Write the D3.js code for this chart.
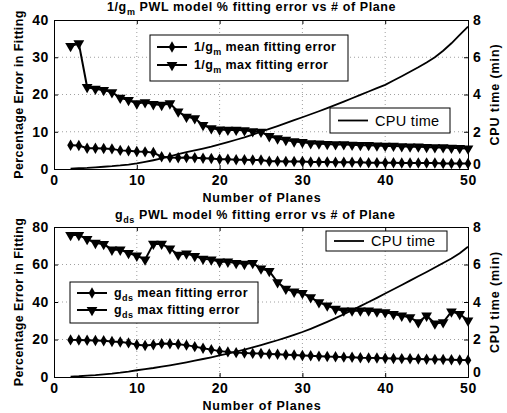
<!DOCTYPE html>
<html><head><meta charset="utf-8">
<script src="https://cdn.jsdelivr.net/npm/d3@7"></script>
<style>
body{margin:0;background:#fff;}
svg{display:block;font-family:"Liberation Sans",Arial,sans-serif;font-weight:bold;}
</style></head>
<body><svg id="c" width="507" height="413"></svg>
<script>
const planes = [2,3,4,5,6,7,8,9,10,11,12,13,14,15,16,17,18,19,20,21,22,23,24,25,26,27,28,29,30,31,32,33,34,35,36,37,38,39,40,41,42,43,44,45,46,47,48,49,50];
const topMean = [6.4,6.3,5.6,5.6,5.5,5.4,5.0,4.9,4.7,4.6,4.4,3.3,3.1,3.0,3.1,3.0,2.9,2.8,2.6,2.6,2.5,2.5,2.4,2.4,2.1,2.1,2.0,2.0,2.0,1.9,1.9,1.9,1.8,1.8,1.8,1.8,1.7,1.7,1.7,1.7,1.6,1.6,1.6,1.6,1.6,1.5,1.5,1.5,1.5];
const topMax = [33,33.7,22,21.5,21.2,20.6,19.1,18.5,17.6,17.9,17.4,17.2,17.6,15.4,14,13.6,11.8,10.9,10.6,10.5,10.5,10.4,10.1,10,8.8,8.2,7.8,7.4,7.2,6.9,6.8,6.7,6.6,6.6,6.5,6.4,6.4,6.3,6.2,6.2,6.1,6.0,6.0,5.9,5.8,5.8,5.7,5.6,5.5];
const topCpu = [0.02,0.04,0.06,0.09,0.12,0.15,0.19,0.24,0.3,0.38,0.47,0.57,0.68,0.8,0.9,1.0,1.1,1.2,1.32,1.44,1.57,1.7,1.85,2.0,2.15,2.3,2.46,2.62,2.78,2.94,3.1,3.27,3.44,3.62,3.8,3.98,4.16,4.34,4.52,4.75,4.98,5.22,5.46,5.72,6.0,6.35,6.75,7.2,7.65];
const botMean = [19.8,19.7,19.6,19.5,19.3,18.9,18.7,18.2,17.2,16.8,17.2,17.8,17.7,17.5,17.0,16.2,15.3,14.6,13.8,13.4,13.0,12.8,12.6,12.5,12.3,12.1,11.9,11.7,11.5,11.3,11.1,10.9,10.8,10.6,10.5,10.3,10.2,10.1,10.0,9.9,9.8,9.7,9.6,9.5,9.4,9.3,9.2,9.1,9.0];
const botMax = [75.7,75.7,73.6,71.5,70.9,67.9,67.9,66.1,64.7,62.6,71,71,68.5,65.2,65.8,64.5,63,62.6,61.5,61.5,60.8,60.3,60.8,57.8,56.5,50.5,47,45.5,44.8,42.5,39.8,38.1,36.3,35.4,35.4,35.4,35.4,34.9,34.5,33.6,32.7,31.8,29.2,32.7,28.5,29.2,34.9,33.6,30.1];
const botCpu = [0.02,0.04,0.07,0.1,0.14,0.18,0.23,0.29,0.36,0.42,0.48,0.55,0.62,0.7,0.78,0.87,0.96,1.05,1.15,1.25,1.35,1.46,1.58,1.7,1.83,1.96,2.1,2.25,2.4,2.57,2.75,2.94,3.14,3.35,3.56,3.78,4.0,4.22,4.45,4.68,4.91,5.14,5.37,5.6,5.84,6.08,6.32,6.6,6.95];
const xTicks = [0,10,20,30,40,50];
const topLeftTicks = [0,10,20,30,40];
const botLeftTicks = [0,20,40,60,80];
const rightTicks = [0,2,4,6,8];

const svg = d3.select("#c");
const L = 54, R = 468;

function panel(cfg){
  const g = svg.append("g");
  const x = d3.scaleLinear().domain([0,50]).range([L,R]);
  const y = d3.scaleLinear().domain([0,cfg.ymax]).range([cfg.bottom,cfg.top]);
  const y2 = d3.scaleLinear().domain([0,8]).range([cfg.bottom,cfg.top]);
  const grid = g.append("g").attr("stroke","#888").attr("stroke-width",0.8).attr("stroke-dasharray","1,3");
  xTicks.slice(1,-1).forEach(t=>grid.append("line").attr("x1",x(t)).attr("x2",x(t)).attr("y1",cfg.top).attr("y2",cfg.bottom));
  cfg.leftTicks.slice(1,-1).forEach(t=>grid.append("line").attr("x1",L).attr("x2",R).attr("y1",y(t)).attr("y2",y(t)));
  const ax = d3.axisBottom(x).tickValues(xTicks).tickSize(-4).tickPadding(8);
  const xa = g.append("g").attr("transform",`translate(0,${cfg.bottom})`).call(ax);
  const xt = d3.axisTop(x).tickValues(xTicks).tickSize(-4).tickFormat("");
  g.append("g").attr("transform",`translate(0,${cfg.top})`).call(xt);
  const ay = d3.axisLeft(y).tickValues(cfg.leftTicks).tickSize(-4).tickPadding(5);
  g.append("g").attr("transform",`translate(${L},0)`).call(ay);
  const ar = d3.axisRight(y2).tickValues(rightTicks).tickSize(-4).tickPadding(5);
  const ra = g.append("g").attr("transform",`translate(${R},0)`).call(ar);
  g.selectAll(".domain").attr("stroke","#000").attr("stroke-width",1);
  g.selectAll(".tick line").attr("stroke","#000");
  g.selectAll(".tick text").attr("font-size",14).attr("font-weight","bold").attr("letter-spacing",0.6)
    .attr("font-family","Liberation Sans, Arial, sans-serif").attr("fill","#000");
  xa.selectAll(".tick text").attr("dy","0.6em");
  ra.selectAll(".tick text").filter(d=>d===0).attr("dy","-0.05em");
  const lineL = d3.line().x((d,i)=>x(planes[i])).y(d=>y(d));
  const lineR = d3.line().x((d,i)=>x(planes[i])).y(d=>y2(d));
  g.append("path").datum(cfg.cpu).attr("d",lineR).attr("fill","none").attr("stroke","#000").attr("stroke-width",1.8);
  g.append("path").datum(cfg.mean).attr("d",lineL).attr("fill","none").attr("stroke","#000").attr("stroke-width",2);
  g.append("path").datum(cfg.max).attr("d",lineL).attr("fill","none").attr("stroke","#000").attr("stroke-width",2);
  const dia = d3.symbol().type(d3.symbolDiamond).size(38)();
  const tri = d3.symbol().type(d3.symbolTriangle).size(50)();
  g.selectAll(".dm").data(cfg.mean).join("path").attr("d",dia)
    .attr("transform",(d,i)=>`translate(${x(planes[i])},${y(d)})`).attr("fill","#000");
  g.selectAll(".tm").data(cfg.max).join("path").attr("d",tri)
    .attr("transform",(d,i)=>`translate(${x(planes[i])},${y(d)}) rotate(180)`).attr("fill","#000");
  const t = g.append("text").attr("x",cfg.titleX).attr("y",cfg.titleY).attr("font-size",12.5).attr("letter-spacing",0.6).attr("fill","#000");
  t.append("tspan").text(cfg.sym1);
  t.append("tspan").attr("dy",4).attr("font-size",9).text(cfg.sub);
  t.append("tspan").attr("dy",-4).text(" PWL model % fitting error vs # of Plane");
  g.append("text").attr("x",(L+R)/2+1).attr("y",cfg.xlabY).attr("text-anchor","middle").attr("font-size",12.5).attr("letter-spacing",0.8).text("Number of Planes");
  g.append("text").attr("transform",`translate(${cfg.ylabX},${(cfg.top+cfg.bottom)/2}) rotate(-90)`).attr("text-anchor","middle").attr("font-size",12.5).attr("letter-spacing",0.4).text("Percentage Error in Fitting");
  g.append("text").attr("transform",`translate(499,${(cfg.top+cfg.bottom)/2}) rotate(-90)`).attr("text-anchor","middle").attr("font-size",12.5).attr("letter-spacing",0.9).text("CPU time (min)");
  const lg = cfg.leg;
  g.append("rect").attr("x",lg.x).attr("y",lg.y).attr("width",lg.w).attr("height",lg.h).attr("fill","#fff").attr("stroke","#000").attr("stroke-width",1);
  [[cfg.leg.t1,dia,0],[cfg.leg.t2,tri,180]].forEach((e,k)=>{
    const yy = lg.y + lg.r1 + k*lg.dr;
    g.append("line").attr("x1",lg.x+7).attr("x2",lg.x+37).attr("y1",yy).attr("y2",yy).attr("stroke","#000").attr("stroke-width",2);
    g.append("path").attr("d",e[1]).attr("transform",`translate(${lg.x+22},${yy}) rotate(${e[2]})`).attr("fill","#000");
    const tx = g.append("text").attr("x",lg.x+44).attr("y",yy+4).attr("font-size",12.5).attr("letter-spacing",0.4);
    tx.append("tspan").text(cfg.sym1);
    tx.append("tspan").attr("dy",4).attr("font-size",9).text(cfg.sub);
    tx.append("tspan").attr("dy",-4).text(" "+e[0]);
  });
  const c = cfg.cleg;
  g.append("rect").attr("x",c.x).attr("y",c.y).attr("width",c.w).attr("height",c.h).attr("fill","#fff").attr("stroke","#000").attr("stroke-width",1);
  g.append("line").attr("x1",c.x+8).attr("x2",c.x+38).attr("y1",c.y+c.h/2).attr("y2",c.y+c.h/2).attr("stroke","#000").attr("stroke-width",1.8);
  g.append("text").attr("x",c.x+45).attr("y",c.y+c.h/2+5).attr("font-size",14.5).attr("font-weight","normal").attr("letter-spacing",0.3).text("CPU time");
}

panel({top:20,bottom:169,ymax:40,leftTicks:topLeftTicks,mean:topMean,max:topMax,cpu:topCpu,
  sym1:"1/g",sub:"m",titleX:107,titleY:11,xlabY:202,ylabX:23,
  leg:{x:150,y:35,w:198,h:46,r1:12,dr:18,t1:"mean fitting error",t2:"max fitting error"},
  cleg:{x:330,y:108,w:120,h:25}});
panel({top:227,bottom:377,ymax:80,leftTicks:botLeftTicks,mean:botMean,max:botMax,cpu:botCpu,
  sym1:"g",sub:"ds",titleX:115,titleY:219,xlabY:410,ylabX:23,
  leg:{x:70,y:282,w:188,h:41,r1:11,dr:17,t1:"mean fitting error",t2:"max fitting error"},
  cleg:{x:326,y:231,w:121,h:20}});
</script></body></html>
